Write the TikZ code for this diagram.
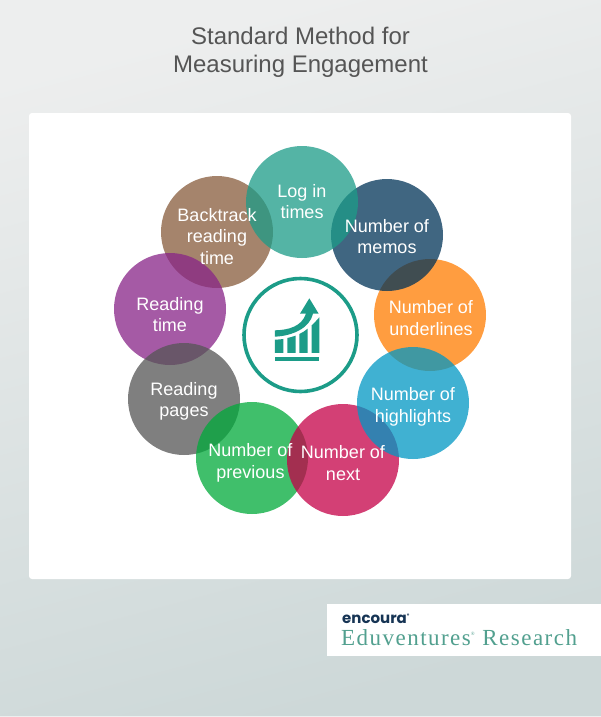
\documentclass[tikz,border=0pt]{standalone}
\usepackage{fontspec}
\setmainfont{Liberation Sans}
\newfontfamily\logofont{Poppins}
\newfontfamily\edufont[LetterSpace=6.4]{Liberation Serif}
\definecolor{tealc}{RGB}{28,156,136}
\definecolor{memoc}{RGB}{1,51,88}
\definecolor{undc}{RGB}{255,125,0}
\definecolor{highc}{RGB}{0,151,196}
\definecolor{nextc}{RGB}{197,0,71}
\definecolor{prevc}{RGB}{0,170,58}
\definecolor{pagec}{RGB}{85,85,85}
\definecolor{readc}{RGB}{136,36,135}
\definecolor{backc}{RGB}{136,92,60}
\definecolor{bgtop}{RGB}{237,238,238}
\definecolor{bgmid}{RGB}{229,232,232}
\definecolor{bgbot}{RGB}{205,216,216}
\definecolor{titlec}{RGB}{85,85,85}
\definecolor{navyc}{RGB}{22,52,84}
\definecolor{edutxt}{RGB}{82,160,143}
\tikzset{
  disc/.style={circle,minimum size=112pt,inner sep=0pt,fill opacity=.75,fill=#1},
  lab/.style={text=white,align=center,inner sep=0pt,font=\fontsize{18}{21.5}\selectfont},
  iconfill/.style={fill=tealc,draw=none}
}
\begin{document}
\begin{tikzpicture}[x=1pt,y=-1pt]
\useasboundingbox (0,0) rectangle (601,717);
\shade[top color=bgtop,middle color=bgmid,bottom color=bgbot,shading angle=15] (0,0) rectangle (601,716);
\fill[bgtop] (0,716) rectangle (601,717);
\node[text=titlec,align=center,inner sep=0pt,anchor=center,font=\fontsize{24}{28}\selectfont] (title) at (300.5,52.5) {Standard Method for\\Measuring Engagement};
\fill[white,rounded corners=3pt] (29,113) rectangle (571,579);
% discs, bottom to top
\node[disc=backc] (back) at (217,232) {};
\node[disc=readc] (read) at (170,309) {};
\node[disc=pagec] (page) at (184,399) {};
\node[disc=prevc] (prev) at (252,458) {};
\node[disc=nextc] (next) at (343,460) {};
\node[disc=undc] (und) at (430,315) {};
\node[disc=highc] (high) at (413,403) {};
\node[disc=memoc] (memo) at (387,235) {};
\node[disc=tealc] (log) at (302,202) {};
% labels
\node[lab] at (302,201.5) {Log in\\times};
\node[lab] at (387,236.5) {Number of\\memos};
\node[lab] at (431,318) {Number of\\underlines};
\node[lab] at (413,407) {Number of\\highlights};
\node[lab] at (343,463) {Number of\\next};
\node[lab] at (250.5,463) {Number of\\previous};
\node[lab] at (184,401.5) {Reading\\pages};
\node[lab] at (170,314.5) {Reading\\time};
\node[lab] at (217,236.5) {Backtrack\\reading\\time};
% centre icon
\node[circle,draw=tealc,line width=3.6pt,minimum size=113pt,inner sep=0pt] (ring) at (300.5,335) {};
\begin{scope}[shift={(230,265)},x=0.3333pt,y=-0.3333pt]
\fill[iconfill] (135,275) rectangle (268,287);
\fill[iconfill] (135,264) -- (135,224) .. controls (143,224) and (152,223) .. (160,222) -- (160,264) -- cycle;
\fill[iconfill] (172,264) -- (172,219) .. controls (180,217) and (189,215) .. (197,212) -- (197,264) -- cycle;
\fill[iconfill] (208,264) -- (208,207) .. controls (217,203) and (225,198) .. (233,191) -- (233,264) -- cycle;
\fill[iconfill] (245,264) -- (245,181) .. controls (253,174) and (259,167) .. (268,157) -- (268,264) -- cycle;
\fill[iconfill] (135,196) .. controls (175,195) and (215,185) .. (228,146) -- (210,146) -- (238,100) -- (266,146) -- (249,146) .. controls (240,190) and (185,213) .. (135,215) -- cycle;
\end{scope}
% logo
\fill[white] (327,604) rectangle (601,656);
\node[anchor=base west,inner sep=0pt,text=navyc,font=\logofont\bfseries\fontsize{15}{15}\selectfont] (enc) at (342,623) {encoura\textsuperscript{\tiny ®}};
\node[anchor=base west,inner sep=0pt,text=edutxt,font=\edufont\fontsize{23}{24}\selectfont] (edu) at (341,645) {Eduventures\textsuperscript{\tiny ®} Research};
\end{tikzpicture}
\end{document}
